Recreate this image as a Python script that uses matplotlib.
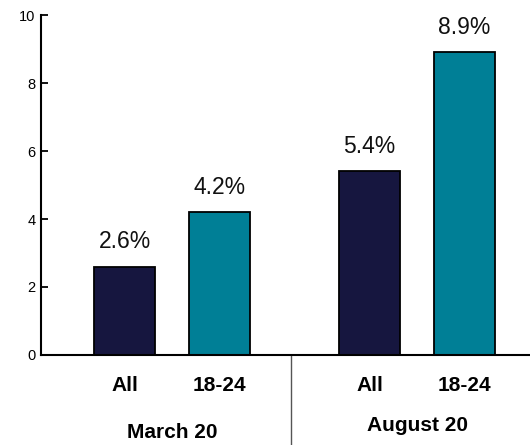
import matplotlib
matplotlib.use('Agg')
import matplotlib.pyplot as plt

plt.rcParams['font.family'] = ['Liberation Sans', 'DejaVu Sans']

# data
groups = ['March 20', 'August 20']
categories = ['All', '18-24', 'All', '18-24']
values = [2.6, 4.2, 5.4, 8.9]
value_labels = ['2.6%', '4.2%', '5.4%', '8.9%']
colors = ['#16163f', '#007f96', '#16163f', '#007f96']
positions = [0, 1, 2.58, 3.58]

fig = plt.figure(figsize=(5.3, 4.45), dpi=100)
fig.patch.set_facecolor('white')
ax = fig.add_axes([41 / 530, 90 / 445, 1 - 41 / 530, 340 / 445])

ax.bar(positions, values, width=0.64, color=colors, edgecolor='black', linewidth=1.3)

for x, v, lab in zip(positions, values, value_labels):
    ax.text(x, v + 0.4, lab, ha='center', va='bottom', fontsize=16.5, color='#111111')

ax.set_xlim(-0.879, 4.268)
ax.set_ylim(0, 10)
ax.set_yticks([0, 2, 4, 6, 8, 10])
ax.tick_params(axis='y', direction='in', length=5, width=1.3, labelsize=10.5, pad=4)
ax.set_xticks([])
ax.spines['top'].set_visible(False)
ax.spines['right'].set_visible(False)
ax.spines['left'].set_linewidth(1.5)
ax.spines['bottom'].set_linewidth(1.5)

# category labels under bars
for x, c in zip(positions, categories):
    ax.annotate(c, xy=(x, 0), xycoords='data', xytext=(0, -22), textcoords='offset points',
                ha='center', va='center', fontsize=15, fontweight='bold')

# group labels
ax.annotate(groups[0], xy=(0.5, 0), xycoords='data', xytext=(0, -55.5), textcoords='offset points',
            ha='center', va='center', fontsize=15, fontweight='bold')
ax.annotate(groups[1], xy=(3.08, 0), xycoords='data', xytext=(0, -51), textcoords='offset points',
            ha='center', va='center', fontsize=15, fontweight='bold')

# divider between groups
ax.plot([1.753, 1.753], [0, -3], color='#555555', linewidth=1.0, clip_on=False)

plt.savefig('out.png', dpi=100, facecolor='white')
